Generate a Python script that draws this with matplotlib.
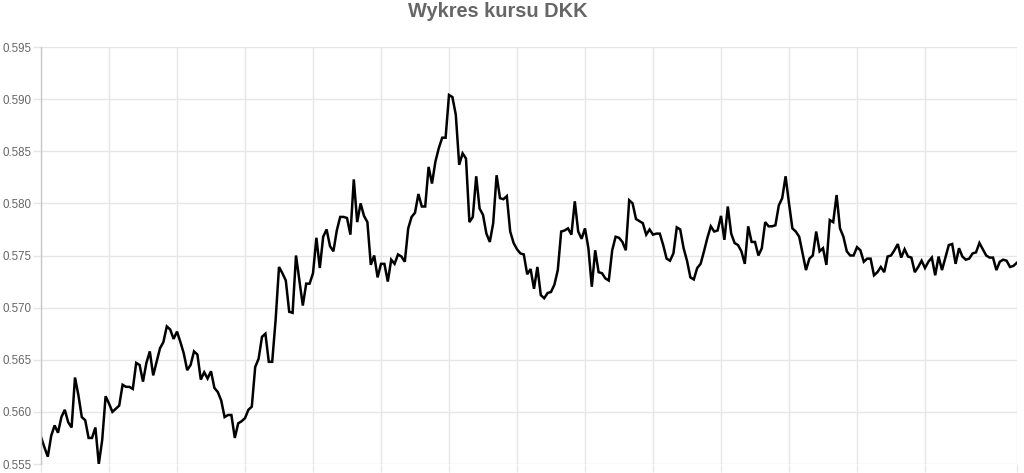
import matplotlib
matplotlib.use("Agg")
import matplotlib.pyplot as plt
from matplotlib.ticker import FormatStrFormatter

# kurs DKK (PLN), kolejne notowania
rates = [
    0.5576, 0.5566, 0.5557, 0.5577, 0.5587, 0.5580, 0.5595, 0.5602, 0.5590, 0.5585,
    0.5633, 0.5616, 0.5595, 0.5592, 0.5575, 0.5575, 0.5585, 0.5550, 0.5573, 0.5615,
    0.5608, 0.5600, 0.5603, 0.5606, 0.5626, 0.5624, 0.5624, 0.5622, 0.5647, 0.5645,
    0.5629, 0.5647, 0.5658, 0.5635, 0.5648, 0.5661, 0.5667, 0.5682, 0.5679, 0.5670,
    0.5677, 0.5667, 0.5656, 0.5640, 0.5645, 0.5658, 0.5655, 0.5631, 0.5638, 0.5632,
    0.5639, 0.5623, 0.5619, 0.5611, 0.5595, 0.5597, 0.5597, 0.5575, 0.5589, 0.5591,
    0.5594, 0.5602, 0.5605, 0.5643, 0.5651, 0.5672, 0.5675, 0.5648, 0.5648, 0.5688,
    0.5739, 0.5733, 0.5726, 0.5696, 0.5695, 0.5750, 0.5726, 0.5702, 0.5723, 0.5723,
    0.5733, 0.5767, 0.5738, 0.5768, 0.5775, 0.5759, 0.5754, 0.5774, 0.5787, 0.5787,
    0.5786, 0.5770, 0.5823, 0.5782, 0.5800, 0.5788, 0.5782, 0.5741, 0.5750, 0.5729,
    0.5742, 0.5742, 0.5725, 0.5746, 0.5742, 0.5751, 0.5749, 0.5744, 0.5776, 0.5787,
    0.5791, 0.5809, 0.5797, 0.5797, 0.5835, 0.5819, 0.5840, 0.5853, 0.5863, 0.5863,
    0.5904, 0.5902, 0.5885, 0.5837, 0.5848, 0.5843, 0.5782, 0.5787, 0.5826, 0.5795,
    0.5789, 0.5771, 0.5763, 0.5781, 0.5827, 0.5805, 0.5804, 0.5807, 0.5773, 0.5762,
    0.5756, 0.5752, 0.5751, 0.5732, 0.5737, 0.5718, 0.5739, 0.5712, 0.5709, 0.5714,
    0.5715, 0.5722, 0.5736, 0.5773, 0.5774, 0.5776, 0.5770, 0.5802, 0.5773, 0.5766,
    0.5776, 0.5757, 0.5720, 0.5755, 0.5734, 0.5733, 0.5728, 0.5726, 0.5755, 0.5768,
    0.5767, 0.5763, 0.5755, 0.5803, 0.5800, 0.5785, 0.5783, 0.5781, 0.5770, 0.5775,
    0.5770, 0.5771, 0.5771, 0.5760, 0.5747, 0.5745, 0.5752, 0.5777, 0.5775, 0.5757,
    0.5745, 0.5729, 0.5727, 0.5738, 0.5742, 0.5754, 0.5767, 0.5778, 0.5773, 0.5774,
    0.5788, 0.5765, 0.5797, 0.5771, 0.5762, 0.5760, 0.5754, 0.5742, 0.5778, 0.5763,
    0.5763, 0.5750, 0.5757, 0.5782, 0.5778, 0.5778, 0.5779, 0.5798, 0.5805, 0.5826,
    0.5800, 0.5776, 0.5773, 0.5768, 0.5752, 0.5736, 0.5747, 0.5750, 0.5773, 0.5754,
    0.5757, 0.5741, 0.5784, 0.5782, 0.5808, 0.5776, 0.5768, 0.5754, 0.5750, 0.5750,
    0.5758, 0.5755, 0.5744, 0.5747, 0.5747, 0.5731, 0.5734, 0.5739, 0.5734, 0.5749,
    0.5750, 0.5755, 0.5761, 0.5748, 0.5756, 0.5749, 0.5748, 0.5734, 0.5739, 0.5745,
    0.5738, 0.5744, 0.5748, 0.5731, 0.5749, 0.5736, 0.5748, 0.5760, 0.5761, 0.5742,
    0.5757, 0.5749, 0.5746, 0.5747, 0.5752, 0.5753, 0.5762, 0.5756, 0.5750, 0.5748,
    0.5748, 0.5736, 0.5744, 0.5746, 0.5745, 0.5739, 0.5740, 0.5743,
]

# pozycje siatki osi X (co 20 notowan + ostatnie)
tick_idx = [0, 20, 40, 60, 80, 100, 120, 140, 160, 180, 200, 220, 240, 260, 287]

y_ticks = [0.555, 0.560, 0.565, 0.570, 0.575, 0.580, 0.585, 0.590, 0.595]

TEXT = "#666666"
GRID = "#e6e6e6"

plt.rcParams["font.family"] = ["Liberation Sans", "DejaVu Sans"]

fig = plt.figure(figsize=(10.24, 4.73), dpi=100)
ax = fig.add_axes([41 / 1024, 9 / 473, 975.8 / 1024, 417 / 473])

ax.plot(range(len(rates)), rates, color="#000000", linewidth=1.8,
        solid_joinstyle="miter")

ax.set_xlim(0, len(rates) - 1)
ax.set_ylim(y_ticks[0], y_ticks[-1])
ax.set_yticks(y_ticks)
ax.yaxis.set_major_formatter(FormatStrFormatter("%.3f"))
ax.set_xticks(tick_idx)
ax.set_xticklabels([])

ax.grid(True, color=GRID, linewidth=1)
ax.set_axisbelow(True)
for side in ["top", "right", "bottom"]:
    ax.spines[side].set_visible(False)
ax.spines["left"].set_color("#c8c8c8")
ax.spines["left"].set_linewidth(1)

ax.tick_params(axis="y", length=6, width=1, color=GRID, pad=1,
               labelsize=8.3, labelcolor=TEXT)
ax.tick_params(axis="x", length=6, width=1, color=GRID)

fig.text(498 / 1024, 1 - 17.3 / 473, "Wykres kursu DKK", ha="center",
         va="baseline", fontsize=14.4, fontweight="bold", color=TEXT)

fig.savefig("out.png", dpi=100)
